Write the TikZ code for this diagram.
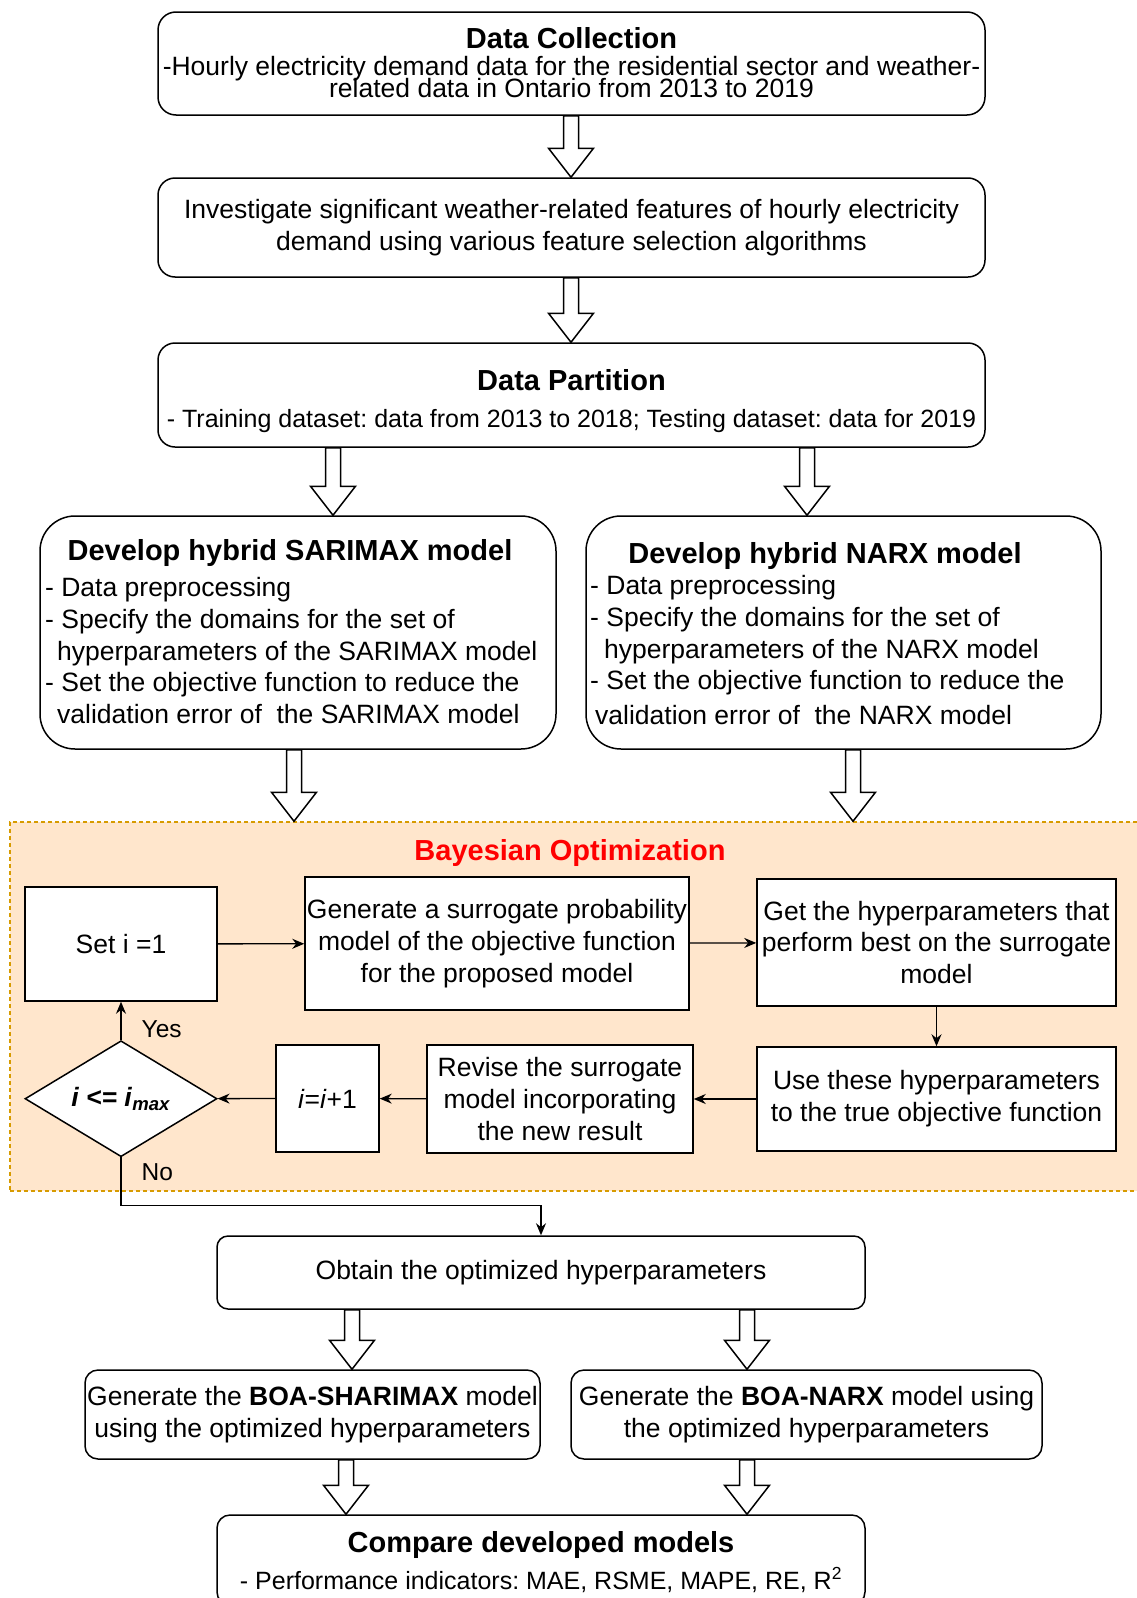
\documentclass[tikz,border=0pt]{standalone}
\usepackage{fontspec}
\setmainfont{Liberation Sans}
\usetikzlibrary{shapes.geometric,arrows.meta,calc}
\frenchspacing

\definecolor{bayfill}{HTML}{FFE6CC}
\definecolor{bayline}{HTML}{D79B00}

\newcommand{\txtsize}{\fontsize{26.5}{31.8}\selectfont}
\newcommand{\ttlsize}{\fontsize{29}{35}\selectfont\bfseries}
\newcommand{\smlsize}{\fontsize{25}{30}\selectfont}
\newcommand{\lblsize}{\fontsize{24.5}{29}\selectfont}
% hollow block arrow: x position, from node, to node
\newcommand{\bigarrow}[3]{\draw[hollow] let \p1=(#2.south), \p2=(#3.north) in
	(#1pt-7.5pt,\y1) -- (#1pt+7.5pt,\y1) -- (#1pt+7.5pt,\y2+29pt) -- (#1pt+22.5pt,\y2+29pt)
	-- (#1pt,\y2) -- (#1pt-22.5pt,\y2+29pt) -- (#1pt-7.5pt,\y2+29pt) -- cycle;}

\tikzstyle{rbox} = [draw, line width=1.5pt, fill=white, inner sep=0pt, align=center, font=\txtsize]
\tikzstyle{sbox} = [draw, line width=1.5pt, fill=white, inner sep=0pt, align=center, font=\txtsize]
\tikzstyle{txt} = [inner sep=0pt, align=center, font=\txtsize]
\tikzstyle{heading} = [inner sep=0pt, font=\ttlsize]
\tikzstyle{region} = [draw=bayline, fill=bayfill, line width=1.5pt, dash pattern=on 4pt off 3pt, inner sep=0pt]
\tikzstyle{flow} = [draw, line width=1.3pt, -{Stealth[length=12pt,width=10pt]}]
\tikzstyle{hollow} = [draw, line width=1.5pt, fill=white, line join=miter]
\tikzstyle{lbl} = [inner sep=0pt, font=\lblsize]

\begin{document}
\begin{tikzpicture}[x=1pt, y=-1pt]
	\useasboundingbox (0,0) rectangle (1137,1598);
	% Bayesian optimization region in the back
	\node[region, minimum width=1135pt, minimum height=369pt] (bay) at (577.5,1006.5) {};
	\node[heading, text=red, anchor=base] (baytitle) at (570,860.5) {Bayesian Optimization};

	% First we draw the boxes of the main flow
	\node[rbox, minimum width=827pt, minimum height=103pt, rounded corners=18pt] (coll) at (571.5,63.5) {};
	\node[heading, anchor=base] (colltitle) at (571.5,48.5) {Data Collection};
	\node[txt, anchor=north, font={\fontsize{26.5}{22}\selectfont\lineskiplimit=-50pt}] (colltxt) at (571.5,56.5)
		{-Hourly electricity demand data for the residential sector and weather-\\related data in Ontario from 2013 to 2019};

	\node[rbox, minimum width=827pt, minimum height=99pt, rounded corners=17pt] (inv) at (571.5,227.5)
		{Investigate significant weather-related features of hourly electricity\\demand using various feature selection algorithms};

	\node[rbox, minimum width=827pt, minimum height=104pt, rounded corners=17pt] (part) at (571.5,395) {};
	\node[heading, anchor=base] (parttitle) at (571.5,390.5) {Data Partition};
	\node[txt, font=\smlsize, anchor=base] (parttxt) at (571.5,427)
		{- Training dataset: data from 2013 to 2018; Testing dataset: data for 2019};

	\node[rbox, minimum width=516pt, minimum height=233pt, rounded corners=35pt] (sar) at (298,632.5) {};
	\node[heading, anchor=base] (sartitle) at (290,560.5) {Develop hybrid SARIMAX model};
	\node[txt, align=left, anchor=north west] (sartxt) at (45,577)
		{- Data preprocessing\\- Specify the domains for the set of\\\hspace*{12pt}hyperparameters of the SARIMAX model\\- Set the objective function to reduce the\\\hspace*{12pt}validation error of\ \ the SARIMAX model};

	\node[rbox, minimum width=515pt, minimum height=233pt, rounded corners=35pt] (narx) at (843.5,632.5) {};
	\node[heading, anchor=base] (narxtitle) at (825,563.5) {Develop hybrid NARX model};
	\node[txt, align=left, anchor=north west] (narxtxt) at (590,575)
		{- Data preprocessing\\- Specify the domains for the set of\\\hspace*{14pt}hyperparameters of the NARX model\\- Set the objective function to reduce the\\[3pt]\hspace*{5pt}validation error of\ \ the NARX model};

	% Then the loop of the optimization
	\node[sbox, minimum width=192pt, minimum height=114pt] (seti) at (121,944) {Set i =1};
	\node[sbox, minimum width=384pt, minimum height=133pt] (gen) at (497,943.5)
		{Generate a surrogate probability\\model of the objective function\\for the proposed model};
	\node[sbox, minimum width=359pt, minimum height=127pt] (get) at (936.5,942.5)
		{Get the hyperparameters that\\perform best on the surrogate\\model};
	\node[sbox, minimum width=359pt, minimum height=104pt] (use) at (936.5,1099)
		{Use these hyperparameters\\to the true objective function};
	\node[sbox, minimum width=266pt, minimum height=108pt] (rev) at (560,1099)
		{Revise the surrogate\\model incorporating\\the new result};
	\node[sbox, minimum width=103pt, minimum height=107pt] (inc) at (327.5,1098.5) {\textit{i}=\textit{i}+1};
	\node[sbox, diamond, aspect=1.65, minimum width=192pt, minimum height=116pt] (dec) at (121,1098.7)
		{\textbf{\textit{i <= i}\textsubscript{\textit{max}}}};

	% Results of the optimization
	\node[rbox, minimum width=648pt, minimum height=73pt, rounded corners=11pt] (obt) at (541,1272.5)
		{Obtain the optimized hyperparameters};
	\node[rbox, minimum width=455pt, minimum height=89pt, rounded corners=13pt] (bsar) at (312.5,1414.5)
		{Generate the \textbf{BOA-SHARIMAX} model\\using the optimized hyperparameters};
	\node[rbox, minimum width=471pt, minimum height=89pt, rounded corners=13pt] (bnarx) at (806.5,1414.5)
		{Generate the \textbf{BOA-NARX} model using\\the optimized hyperparameters};
	\node[rbox, minimum width=648pt, minimum height=90pt, rounded corners=13pt] (comp) at (541,1560) {};
	\node[heading, anchor=base] (comptitle) at (541,1552.5) {Compare developed models};
	\node[txt, font=\smlsize, anchor=base] (comptxt) at (541,1589)
		{- Performance indicators: MAE, RSME, MAPE, RE, R\textsuperscript{2}};

	% Connect the loop with thin arrows
	\foreach \src/\dst in {seti/gen, gen/get, get/use, use/rev, rev/inc, inc/dec}
		\path[flow] (\src) -- (\dst);
	\path[flow] (dec.north) -- node[lbl, pos=.27, anchor=west, xshift=20pt] {Yes} (seti.south);
	\path[flow] (dec.south) -- node[lbl, pos=.3, anchor=west, xshift=20pt] {No} ++(0,48) -| (obt.north);

	% Block arrows between the stages
	\foreach \xa/\src/\dst in {571/coll/inv, 571/inv/part, 333/part/sar, 807/part/narx, 294/sar/bay,
		853/narx/bay, 352/obt/bsar, 747/obt/bnarx, 346/bsar/comp, 747/bnarx/comp}
		\bigarrow{\xa}{\src}{\dst};
\end{tikzpicture}
\end{document}
